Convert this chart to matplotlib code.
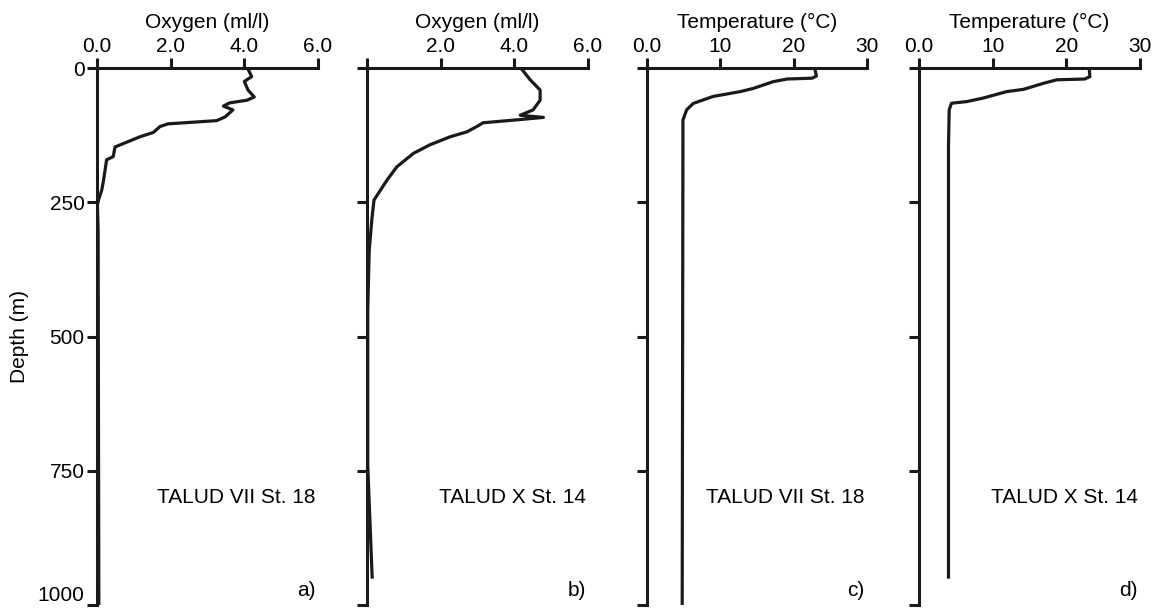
import matplotlib.pyplot as plt

plt.rcParams['font.family'] = ['Liberation Sans', 'DejaVu Sans']

# profiles
depth_a = [0, 2, 16, 25, 41, 54, 60, 65, 71, 78, 91, 98, 104, 109, 120, 128,
           147, 165, 171, 190, 212, 227, 246, 255, 300, 1000]
oxy_a = [4.10, 4.10, 4.20, 4.00, 4.10, 4.27, 4.07, 3.60, 3.43, 3.69, 3.48, 3.25,
         1.93, 1.71, 1.53, 1.17, 0.49, 0.44, 0.26, 0.22, 0.17, 0.13, 0.04, 0.01,
         0.03, 0.05]

depth_b = [0, 2, 22, 41, 60, 78, 88, 92, 96, 102, 109, 119, 128, 143, 159, 184,
           209, 246, 283, 340, 450, 740, 948]
oxy_b = [4.20, 4.20, 4.43, 4.70, 4.70, 4.51, 4.16, 4.79, 4.16, 3.15, 2.98, 2.71,
         2.26, 1.71, 1.26, 0.81, 0.54, 0.19, 0.13, 0.06, 0.02, 0.02, 0.14]

depth_c = [0, 2, 15, 19, 20.5, 25.5, 38, 44, 53, 66, 78, 97, 147, 1000]
temp_c = [22.9, 22.9, 23.1, 22.5, 19.1, 17.2, 14.5, 12.7, 9.0, 6.3, 5.4, 4.9, 4.9, 4.8]

depth_d = [0, 16, 20.5, 22, 28.5, 39.7, 44, 56, 62.5, 65.6, 78, 147, 948]
temp_d = [23.1, 23.2, 22.5, 18.7, 16.9, 14.2, 11.9, 8.7, 6.5, 4.4, 4.1, 4.0, 4.0]

panels = [
    (oxy_a, depth_a, 'Oxygen (ml/l)', [0, 2, 4, 6], ['0.0', '2.0', '4.0', '6.0'], 6, 'TALUD VII St. 18', 'a)'),
    (oxy_b, depth_b, 'Oxygen (ml/l)', [0, 2, 4, 6], ['', '2.0', '4.0', '6.0'], 6, 'TALUD X St. 14', 'b)'),
    (temp_c, depth_c, 'Temperature (°C)', [0, 10, 20, 30], ['0.0', '10', '20', '30'], 30, 'TALUD VII St. 18', 'c)'),
    (temp_d, depth_d, 'Temperature (°C)', [0, 10, 20, 30], ['0.0', '10', '20', '30'], 30, 'TALUD X St. 14', 'd)'),
]
lefts = [97, 367, 647, 919]
widths = [221, 221, 220, 221]

fig = plt.figure(figsize=(11.52, 6.13), dpi=100)
W, H = 1152, 613
for i, (x, d, xlab, ticks, tlabels, xmax, station, letter) in enumerate(panels):
    ax = fig.add_axes([lefts[i] / W, (H - 605) / H, widths[i] / W, 537 / H])
    ax.plot(x, d, color='#1a1a1a', lw=2.3, solid_joinstyle='round')
    ax.set_xlim(0, xmax)
    ax.set_ylim(1000, 0)
    for s in ['right', 'bottom']:
        ax.spines[s].set_visible(False)
    for s in ['left', 'top']:
        ax.spines[s].set_linewidth(2.2)
        ax.spines[s].set_color('#1a1a1a')
    ax.xaxis.tick_top()
    ax.xaxis.set_label_position('top')
    ax.set_xticks(ticks)
    ax.set_xticklabels(tlabels)
    ax.set_xlabel(xlab, fontsize=15, labelpad=6)
    ax.set_yticks([0, 250, 500, 750, 1000])
    ax.tick_params(axis='both', direction='out', length=7, width=2.2,
                   color='#1a1a1a', labelsize=15, pad=2)
    if i == 0:
        ax.set_ylabel('Depth (m)', fontsize=15, labelpad=6)
        ax.get_yticklabels()[-1].set_va('bottom')
    else:
        ax.set_yticklabels([])
    tr = ax.get_yaxis_transform()
    ax.text(0.99, 800, station, transform=tr, ha='right', va='center', fontsize=15)
    ax.text(0.99, 973, letter, transform=tr, ha='right', va='center', fontsize=15)

fig.savefig('out.png', dpi=100)
